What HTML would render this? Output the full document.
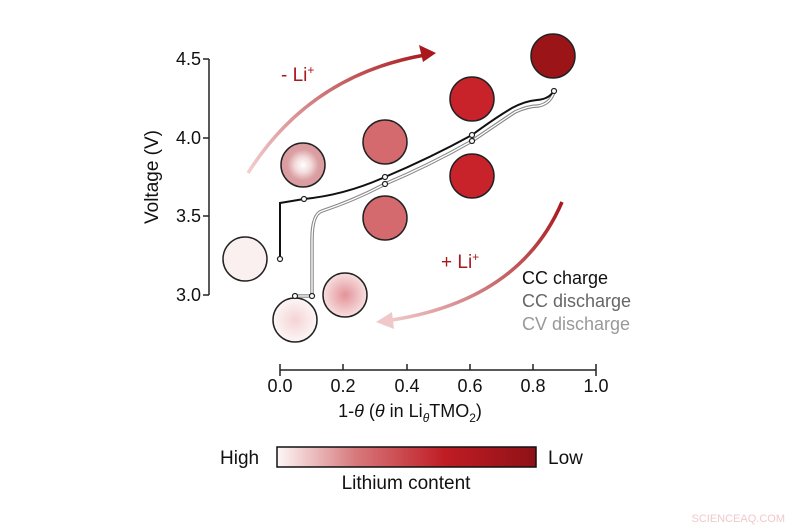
<!DOCTYPE html>
<html><head><meta charset="utf-8"><style>
html,body{margin:0;padding:0;background:#fff;}
svg{display:block;font-family:"Liberation Sans",Arial,sans-serif;}
</style></head><body>
<svg width="800" height="530" viewBox="0 0 800 530" xmlns="http://www.w3.org/2000/svg">
<defs>
<linearGradient id="cb" x1="0" x2="1" y1="0" y2="0">
<stop offset="0" stop-color="#fdf7f7"/><stop offset="0.3" stop-color="#d77a7d"/><stop offset="0.65" stop-color="#c01c24"/><stop offset="1" stop-color="#8e1216"/>
</linearGradient>
<linearGradient id="a1" x1="248" y1="173" x2="430" y2="55" gradientUnits="userSpaceOnUse">
<stop offset="0" stop-color="#f2cfd0"/><stop offset="1" stop-color="#a8181c"/></linearGradient>
<linearGradient id="a2" x1="562" y1="202" x2="382" y2="322" gradientUnits="userSpaceOnUse">
<stop offset="0" stop-color="#a8181c"/><stop offset="1" stop-color="#f2cfd0"/></linearGradient>
<radialGradient id="g4"><stop offset="0" stop-color="#fff"/><stop offset="0.35" stop-color="#f3dcdd"/><stop offset="0.7" stop-color="#dba0a3"/><stop offset="1" stop-color="#d99a9d"/></radialGradient>
<radialGradient id="g8"><stop offset="0" stop-color="#e39398"/><stop offset="1" stop-color="#f8dfe0"/></radialGradient>
<radialGradient id="g9"><stop offset="0" stop-color="#f4d3d5"/><stop offset="1" stop-color="#fdf6f6"/></radialGradient>
</defs>
<!-- y axis -->
<g stroke="#222" stroke-width="1.5" fill="none">
<line x1="209" y1="59" x2="209" y2="295"/>
<line x1="203" y1="59" x2="209" y2="59"/><line x1="203" y1="138" x2="209" y2="138"/>
<line x1="203" y1="216" x2="209" y2="216"/><line x1="203" y1="295" x2="209" y2="295"/>
<line x1="280" y1="370" x2="596" y2="370"/>
<line x1="280" y1="364" x2="280" y2="376"/><line x1="343" y1="364" x2="343" y2="370"/>
<line x1="407" y1="364" x2="407" y2="370"/><line x1="470" y1="364" x2="470" y2="370"/>
<line x1="533" y1="364" x2="533" y2="370"/><line x1="596" y1="364" x2="596" y2="376"/>
</g>
<g font-size="18" fill="#111" text-anchor="end">
<text x="201" y="65">4.5</text><text x="201" y="144">4.0</text>
<text x="201" y="222">3.5</text><text x="201" y="301">3.0</text>
</g>
<text transform="translate(158,177) rotate(-90)" font-size="19" text-anchor="middle" fill="#111">Voltage (V)</text>
<g font-size="18" fill="#111" text-anchor="middle">
<text x="280" y="392">0.0</text><text x="343" y="392">0.2</text><text x="407" y="392">0.4</text>
<text x="470" y="392">0.6</text><text x="533" y="392">0.8</text><text x="596" y="392">1.0</text>
<text x="410" y="417">1-<tspan font-style="italic">θ</tspan> (<tspan font-style="italic">θ</tspan> in Li<tspan font-size="12" font-style="italic" dy="5">θ</tspan><tspan dy="-5">TMO</tspan><tspan font-size="12" dy="5">2</tspan><tspan dy="-5">)</tspan></text>
</g>
<!-- colorbar -->
<rect x="277" y="447" width="259" height="20" fill="url(#cb)" stroke="#111" stroke-width="1.5"/>
<text x="220" y="464" font-size="19" fill="#111">High</text>
<text x="548" y="464" font-size="19" fill="#111">Low</text>
<text x="406" y="489" font-size="19" fill="#111" text-anchor="middle">Lithium content</text>
<!-- arrows -->
<path d="M248,173 Q310,75 425,55" stroke="url(#a1)" stroke-width="3.5" fill="none"/>
<polygon points="436,53 419,45 423,62" fill="#a8181c"/>
<path d="M562,202 Q520,300 392,320" stroke="url(#a2)" stroke-width="3.5" fill="none"/>
<polygon points="376,322 392,312 394,329" fill="#f0c8ca"/>
<text x="281" y="81" font-size="19" fill="#a8181c">- Li<tspan font-size="12" dy="-7">+</tspan></text>
<text x="441" y="268" font-size="19" fill="#a8181c">+ Li<tspan font-size="12" dy="-7">+</tspan></text>
<!-- legend -->
<text x="522" y="284" font-size="18" fill="#111">CC charge</text>
<text x="522" y="307" font-size="18" fill="#666">CC discharge</text>
<text x="522" y="330" font-size="18" fill="#999">CV discharge</text>
<!-- circles -->
<g stroke="#222" stroke-width="1.5">
<circle cx="553" cy="56" r="22" fill="#9b1518"/>
<circle cx="472" cy="99" r="22" fill="#c8222a"/>
<circle cx="472" cy="176" r="22" fill="#c8222a"/>
<circle cx="385" cy="142" r="22" fill="#d46a6e"/>
<circle cx="385" cy="218" r="22" fill="#d46a6e"/>
<circle cx="303" cy="165" r="22" fill="url(#g4)"/>
<circle cx="245" cy="259" r="22" fill="#fbf0f0"/>
<circle cx="345" cy="295" r="22" fill="url(#g8)"/>
<circle cx="295" cy="320" r="22" fill="url(#g9)"/>
</g>
<!-- curves -->
<path d="M295,296 L312,296 L312,240 Q312,214 322,211 Q355,200 385,184 Q430,165 472,141 Q500,122 515,112 Q528,106 538,106 Q550,104 554,92" stroke="#888" stroke-width="3.5" fill="none"/>
<path d="M295,296 L312,296 L312,240 Q312,214 322,211 Q355,200 385,184 Q430,165 472,141 Q500,122 515,112 Q528,106 538,106 Q550,104 554,92" stroke="#fff" stroke-width="1.3" fill="none"/>
<path d="M280,259 L280,203 L304,199 Q345,195 385,177 Q430,158 472,135 Q495,118 512,108 Q525,101 537,100 Q550,99 554,90" stroke="#111" stroke-width="2" fill="none"/>
<g fill="#fff" stroke="#222" stroke-width="1.2">
<circle cx="280" cy="259" r="2.5"/><circle cx="304" cy="199" r="2.5"/>
<circle cx="385" cy="177" r="2.5"/><circle cx="385" cy="184" r="2.5"/>
<circle cx="472" cy="135" r="2.5"/><circle cx="472" cy="141" r="2.5"/>
<circle cx="554" cy="91" r="2.5"/><circle cx="295" cy="296" r="2.5"/><circle cx="312" cy="296" r="2.5"/>
</g>
<text x="785" y="522" font-size="11" fill="#f0c8cc" text-anchor="end">SCIENCEAQ.COM</text>
</svg>
</body></html>
